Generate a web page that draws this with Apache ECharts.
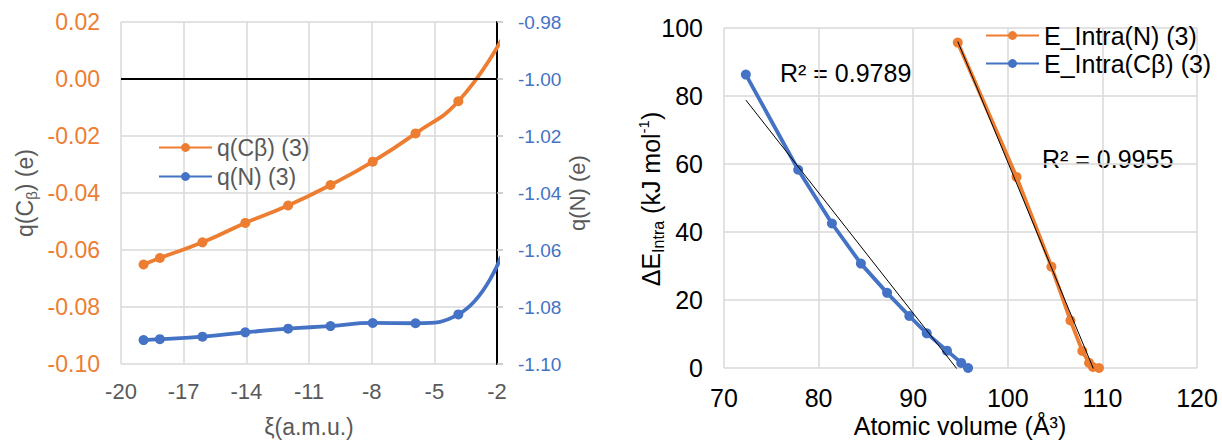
<!DOCTYPE html>
<html>
<head>
<meta charset="utf-8">
<script src="https://cdn.jsdelivr.net/npm/echarts@6/dist/echarts.min.js"></script>
<style>
html,body{margin:0;padding:0;background:#fff;}
#chart{width:1222px;height:441px;}
</style>
</head>
<body>
<div id="chart"></div>
<script>
// ---- Left chart data ----
const xiValues = [-18.92, -18.14, -16.10, -14.05, -12.00, -9.97, -7.95, -5.90, -3.85, -1.80];
const qCbeta   = [-0.0651, -0.0628, -0.0573, -0.0505, -0.0444, -0.0372, -0.0290, -0.0191, -0.0078, 0.0136];
const qN       = [-1.0916, -1.0913, -1.0904, -1.0889, -1.0876, -1.0867, -1.0856, -1.0857, -1.0826, -1.0622];
const leftSeriesNames = ['q(Cβ) (3)', 'q(N) (3)'];

// ---- Right chart data ----
const volN     = [94.71, 100.92, 104.61, 106.62, 107.88, 108.59, 109.00, 109.64];
const eIntraN  = [95.7, 56.2, 29.8, 14.0, 5.0, 1.5, 0.3, 0.0];
const volCb    = [72.31, 77.84, 81.41, 84.47, 87.24, 89.59, 91.43, 93.57, 95.08, 95.80];
const eIntraCb = [86.3, 58.3, 42.5, 30.7, 22.1, 15.3, 10.2, 5.1, 1.5, 0.0];
const rightSeriesNames = ['E_Intra(N) (3)', 'E_Intra(Cβ) (3)'];
const r2Labels = ['R² = 0.9789', 'R² = 0.9955'];

const ORANGE = '#ED7D31', BLUE = '#4472C4', GRID = '#D9D9D9', GRAY = '#595959';

function zip(a, b) { return a.map((v, i) => [v, b[i]]); }
function trend(xs, ys) {
  const n = xs.length;
  const mx = xs.reduce((s, v) => s + v, 0) / n;
  const my = ys.reduce((s, v) => s + v, 0) / n;
  let sxy = 0, sxx = 0;
  for (let i = 0; i < n; i++) { sxy += (xs[i] - mx) * (ys[i] - my); sxx += (xs[i] - mx) ** 2; }
  const k = sxy / sxx, b = my - k * mx;
  const x0 = Math.min(...xs), x1 = Math.max(...xs);
  return [[x0, k * x0 + b], [x1, k * x1 + b]];
}

const chart = echarts.init(document.getElementById('chart'), null, {renderer: 'svg'});
const font = 'Liberation Sans, Arial, sans-serif';

const option = {
  animation: false,
  backgroundColor: '#fff',
  textStyle: {fontFamily: font},
  grid: [
    {left: 121, top: 22, width: 376, height: 342},
    {left: 724, top: 28, width: 473, height: 340}
  ],
  xAxis: [
    {gridIndex: 0, type: 'value', min: -20, max: -2, interval: 3,
     axisLine: {show: false}, axisTick: {show: false},
     splitLine: {show: true, lineStyle: {color: GRID, width: 1.5}},
     axisLabel: {color: GRAY, fontSize: 22, margin: 16, fontFamily: font}},
    {gridIndex: 1, type: 'value', min: 70, max: 120, interval: 10,
     axisLine: {show: false}, axisTick: {show: false},
     splitLine: {show: true, lineStyle: {color: GRID, width: 1.5}},
     axisLabel: {color: '#000', fontSize: 25, margin: 17, fontFamily: font}}
  ],
  yAxis: [
    {gridIndex: 0, type: 'value', min: -0.1, max: 0.02, interval: 0.02,
     axisLine: {show: false}, axisTick: {show: false},
     splitLine: {show: true, lineStyle: {color: GRID, width: 1.5}},
     axisLabel: {color: ORANGE, fontSize: 23, margin: 21, fontFamily: font,
                 formatter: v => v.toFixed(2)}},
    {gridIndex: 0, type: 'value', position: 'right', min: -1.10, max: -0.98, interval: 0.02,
     axisLine: {show: true, lineStyle: {color: '#000', width: 2}},
     axisTick: {show: true, length: 6, lineStyle: {color: '#BFBFBF', width: 1.5}},
     splitLine: {show: false},
     axisLabel: {color: BLUE, fontSize: 19, margin: 21, fontFamily: font,
                 formatter: v => v.toFixed(2)}},
    {gridIndex: 1, type: 'value', min: 0, max: 100, interval: 20,
     axisLine: {show: false}, axisTick: {show: false},
     splitLine: {show: true, lineStyle: {color: GRID, width: 1.5}},
     axisLabel: {color: '#000', fontSize: 25, margin: 21, fontFamily: font}}
  ],
  legend: [
    {data: leftSeriesNames, orient: 'vertical', left: 158, top: 136, padding: 0,
     itemWidth: 53, itemHeight: 11, itemGap: 6,
     textStyle: {fontSize: 23, color: GRAY, fontFamily: font}},
    {data: rightSeriesNames, orient: 'vertical', left: 985, top: 23, padding: 0,
     itemWidth: 53, itemHeight: 11, itemGap: 3,
     textStyle: {fontSize: 25, color: '#000', fontFamily: font}}
  ],
  series: [
    {name: leftSeriesNames[0], type: 'line', xAxisIndex: 0, yAxisIndex: 0,
     data: zip(xiValues, qCbeta), smooth: true, clip: true,
     symbol: 'circle', symbolSize: 10, color: ORANGE,
     lineStyle: {width: 3.8, color: ORANGE}, itemStyle: {color: ORANGE},
     markLine: {silent: true, symbol: 'none', label: {show: false},
                lineStyle: {color: '#000', width: 2, type: 'solid'},
                data: [{yAxis: 0}]}},
    {name: leftSeriesNames[1], type: 'line', xAxisIndex: 0, yAxisIndex: 1,
     data: zip(xiValues, qN), smooth: true, clip: true,
     symbol: 'circle', symbolSize: 10, color: BLUE,
     lineStyle: {width: 3.8, color: BLUE}, itemStyle: {color: BLUE}},
    {name: rightSeriesNames[0], type: 'line', xAxisIndex: 1, yAxisIndex: 2,
     data: zip(volN, eIntraN), clip: true,
     symbol: 'circle', symbolSize: 10, color: ORANGE,
     lineStyle: {width: 3.8, color: ORANGE}, itemStyle: {color: ORANGE}},
    {name: rightSeriesNames[1], type: 'line', xAxisIndex: 1, yAxisIndex: 2,
     data: zip(volCb, eIntraCb), clip: true,
     symbol: 'circle', symbolSize: 10, color: BLUE,
     lineStyle: {width: 3.8, color: BLUE}, itemStyle: {color: BLUE}},
    {name: 'trend N', type: 'line', xAxisIndex: 1, yAxisIndex: 2,
     data: trend(volN, eIntraN), clip: true, symbol: 'none', z: 5,
     lineStyle: {width: 1, color: '#000'}},
    {name: 'trend Cβ', type: 'line', xAxisIndex: 1, yAxisIndex: 2,
     data: trend(volCb, eIntraCb), clip: true, symbol: 'none', z: 5,
     lineStyle: {width: 1, color: '#000'}}
  ],
  graphic: [
    {type: 'text', x: 25, y: 193, rotation: Math.PI / 2,
     style: {text: '{a|q(C}{s|β}{a|) (e)}', align: 'center', verticalAlign: 'middle',
             rich: {a: {fontSize: 23, fill: GRAY, color: GRAY, fontFamily: font, lineHeight: 28, verticalAlign: 'middle'},
                    s: {fontSize: 15, fill: GRAY, color: GRAY, fontFamily: font, lineHeight: 15, verticalAlign: 'bottom'}}}},
    {type: 'text', x: 577, y: 193, rotation: Math.PI / 2,
     style: {text: 'q(N) (e)', align: 'center', verticalAlign: 'middle',
             fill: GRAY, fontSize: 22, fontFamily: font}},
    {type: 'text', x: 309, y: 427,
     style: {text: 'ξ(a.m.u.)', align: 'center', verticalAlign: 'middle',
             fill: GRAY, fontSize: 23, fontFamily: font}},
    {type: 'text', x: 651, y: 199, rotation: Math.PI / 2,
     style: {text: '{a|ΔE}{s|Intra}{a| (kJ mol}{p|-1}{a|)}', align: 'center', verticalAlign: 'middle',
             rich: {a: {fontSize: 25, fill: '#000', color: '#000', fontFamily: font, lineHeight: 30, verticalAlign: 'middle'},
                    s: {fontSize: 16, fill: '#000', color: '#000', fontFamily: font, lineHeight: 16, verticalAlign: 'bottom'},
                    p: {fontSize: 15, fill: '#000', color: '#000', fontFamily: font, lineHeight: 16, verticalAlign: 'top'}}}},
    {type: 'text', x: 960, y: 426,
     style: {text: 'Atomic volume (Å³)', align: 'center', verticalAlign: 'middle',
             fill: '#000', fontSize: 25, fontFamily: font}},
    {type: 'text', x: 780, y: 73,
     style: {text: r2Labels[0], align: 'left', verticalAlign: 'middle',
             fill: '#000', fontSize: 25, fontFamily: font}},
    {type: 'text', x: 1042, y: 159,
     style: {text: r2Labels[1], align: 'left', verticalAlign: 'middle',
             fill: '#000', fontSize: 25, fontFamily: font}}
  ]
};
chart.setOption(option);
</script>
</body>
</html>
